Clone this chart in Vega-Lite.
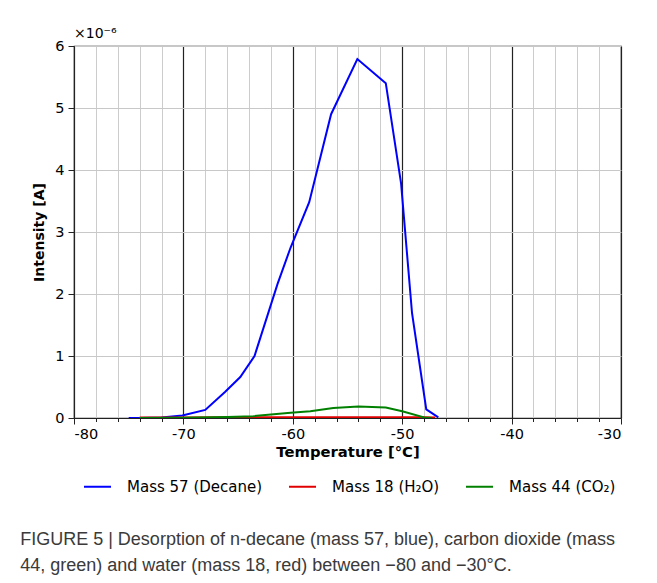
{
  "$schema": "https://vega.github.io/schema/vega-lite/v6.json",
  "background": "white",
  "padding": {"left": 20, "top": 26, "right": 20, "bottom": 10},
  "title": {
    "text": ["FIGURE 5 | Desorption of n-decane (mass 57, blue), carbon dioxide (mass", "44, green) and water (mass 18, red) between −80 and −30°C."],
    "orient": "bottom", "anchor": "start", "frame": "bounds",
    "font": "Liberation Sans", "fontSize": 18, "fontWeight": "normal",
    "color": "#3a3a3a", "lineHeight": 26, "offset": 27, "dx": -12
  },
  "vconcat": [
    {
      "width": 547,
      "height": 372,
      "title": {"text": "×10⁻⁶", "anchor": "start", "frame": "group", "font": "DejaVu Sans", "fontSize": 14, "fontWeight": "normal", "color": "#000", "offset": 0, "dy": 3},
      "data": {
        "values": [
          {"t": -75, "v": 0.0, "series": "Mass 57 (Decane)"},
          {"t": -74, "v": 0.0, "series": "Mass 57 (Decane)"},
          {"t": -72, "v": 0.01, "series": "Mass 57 (Decane)"},
          {"t": -70.1, "v": 0.04, "series": "Mass 57 (Decane)"},
          {"t": -68, "v": 0.13, "series": "Mass 57 (Decane)"},
          {"t": -66.2, "v": 0.42, "series": "Mass 57 (Decane)"},
          {"t": -64.8, "v": 0.66, "series": "Mass 57 (Decane)"},
          {"t": -63.5, "v": 1.0, "series": "Mass 57 (Decane)"},
          {"t": -61.4, "v": 2.16, "series": "Mass 57 (Decane)"},
          {"t": -60.2, "v": 2.75, "series": "Mass 57 (Decane)"},
          {"t": -58.5, "v": 3.48, "series": "Mass 57 (Decane)"},
          {"t": -56.5, "v": 4.9, "series": "Mass 57 (Decane)"},
          {"t": -54.1, "v": 5.79, "series": "Mass 57 (Decane)"},
          {"t": -51.5, "v": 5.4, "series": "Mass 57 (Decane)"},
          {"t": -50.1, "v": 3.78, "series": "Mass 57 (Decane)"},
          {"t": -49.1, "v": 1.69, "series": "Mass 57 (Decane)"},
          {"t": -47.8, "v": 0.14, "series": "Mass 57 (Decane)"},
          {"t": -46.7, "v": 0.01, "series": "Mass 57 (Decane)"},
          {"t": -74, "v": 0.01, "series": "Mass 18 (H₂O)"},
          {"t": -70, "v": 0.01, "series": "Mass 18 (H₂O)"},
          {"t": -66, "v": 0.011, "series": "Mass 18 (H₂O)"},
          {"t": -62, "v": 0.012, "series": "Mass 18 (H₂O)"},
          {"t": -58, "v": 0.012, "series": "Mass 18 (H₂O)"},
          {"t": -54, "v": 0.014, "series": "Mass 18 (H₂O)"},
          {"t": -51, "v": 0.013, "series": "Mass 18 (H₂O)"},
          {"t": -48, "v": 0.011, "series": "Mass 18 (H₂O)"},
          {"t": -47, "v": 0.01, "series": "Mass 18 (H₂O)"},
          {"t": -74, "v": 0.0, "series": "Mass 44 (CO₂)"},
          {"t": -70, "v": 0.005, "series": "Mass 44 (CO₂)"},
          {"t": -66, "v": 0.015, "series": "Mass 44 (CO₂)"},
          {"t": -63.6, "v": 0.03, "series": "Mass 44 (CO₂)"},
          {"t": -60.2, "v": 0.085, "series": "Mass 44 (CO₂)"},
          {"t": -58.4, "v": 0.11, "series": "Mass 44 (CO₂)"},
          {"t": -56.3, "v": 0.16, "series": "Mass 44 (CO₂)"},
          {"t": -54, "v": 0.185, "series": "Mass 44 (CO₂)"},
          {"t": -51.5, "v": 0.17, "series": "Mass 44 (CO₂)"},
          {"t": -50, "v": 0.11, "series": "Mass 44 (CO₂)"},
          {"t": -48, "v": 0.01, "series": "Mass 44 (CO₂)"},
          {"t": -47.3, "v": 0.0, "series": "Mass 44 (CO₂)"}
        ]
      },
      "mark": {"type": "line", "strokeWidth": 2, "clip": true},
      "encoding": {
        "x": {
          "field": "t", "type": "quantitative",
          "scale": {"domain": [-80, -30], "nice": false, "zero": false},
          "axis": {
            "title": "Temperature [°C]",
            "titleFontSize": 14.8,
            "values": [-80, -78, -76, -74, -72, -70, -68, -66, -64, -62, -60, -58, -56, -54, -52, -50, -48, -46, -44, -42, -40, -38, -36, -34, -32, -30],
            "labelExpr": "datum.value % 10 === 0 ? '' + datum.value : ''",
            "gridColor": {"condition": {"test": "datum.value % 10 === 0", "value": "#222222"}, "value": "#cccccc"},
            "gridWidth": {"condition": {"test": "datum.value % 10 === 0", "value": 1.2}, "value": 1},
            "tickSize": {"condition": {"test": "datum.value % 10 === 0", "value": 6}, "value": 3.5},
            "labelPadding": 3,
            "titlePadding": 4
          }
        },
        "y": {
          "field": "v", "type": "quantitative",
          "scale": {"domain": [0, 6], "nice": false},
          "axis": {
            "title": "Intensity [A]",
            "titleFontSize": 14,
            "values": [0, 1, 2, 3, 4, 5, 6],
            "gridColor": "#c8c8c8",
            "tickSize": 6,
            "labelPadding": 4,
            "titlePadding": 8
          }
        },
        "color": {
          "field": "series", "type": "nominal",
          "scale": {"domain": ["Mass 57 (Decane)", "Mass 18 (H₂O)", "Mass 44 (CO₂)"], "range": ["#0000ff", "#e00000", "#008000"]},
          "legend": {
            "title": null, "orient": "bottom", "direction": "horizontal",
            "symbolType": "stroke", "symbolSize": 729, "symbolStrokeWidth": 2,
            "labelFont": "DejaVu Sans", "labelFontSize": 15, "labelColor": "#000",
            "labelOffset": 15, "columnPadding": 22, "offset": 3, "padding": 9
          }
        }
      }
    }
  ],
  "config": {
    "view": {"stroke": "#222222", "strokeWidth": 1.2},
    "axis": {
      "labelFont": "DejaVu Sans", "labelFontSize": 14.5, "labelColor": "#000",
      "titleFont": "DejaVu Sans", "titleFontSize": 14, "titleFontWeight": "bold", "titleColor": "#000",
      "domainColor": "#222222", "tickColor": "#222222", "gridOpacity": 1
    }
  }
}
